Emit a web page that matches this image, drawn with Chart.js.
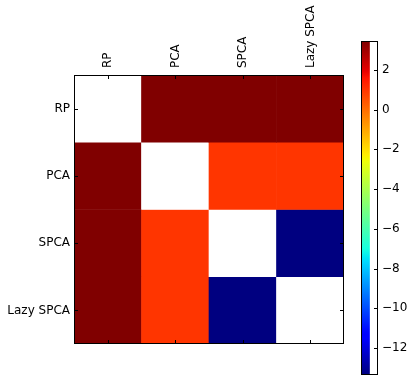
<!DOCTYPE html>
<html>
<head>
<meta charset="utf-8">
<script src="https://cdn.jsdelivr.net/npm/chart.js@4"></script>
<style>
  html, body { margin: 0; padding: 0; background: #fff; }
  #wrap { position: relative; width: 415px; height: 386px; }
  #matrix { position: absolute; left: 0; top: 0; }
  #cbar { position: absolute; left: 350px; top: 0; }
</style>
</head>
<body>
<div id="wrap">
  <canvas id="matrix" width="415" height="386"></canvas>
  <canvas id="cbar" width="65" height="386"></canvas>
</div>
<script>
"use strict";

// Methods compared (same order on both axes)
const methods = ["RP", "PCA", "SPCA", "Lazy SPCA"];

// Matrix rows (null = diagonal, drawn white)
const rowRP = [null, 3.45, 3.45, 3.45];
const rowPCA = [3.45, null, 1.0, 1.0];
const rowSPCA = [3.45, 1.0, null, -13.35];
const rowLazySPCA = [3.45, 1.0, -13.35, null];
const rows = [rowRP, rowPCA, rowSPCA, rowLazySPCA];

// Colorbar ticks
const cbarTicks = [2, 0, -2, -4, -6, -8, -10, -12];

let allVals = rows.flat().filter(v => v !== null);
let vmin = Math.min(...allVals);
let vmax = Math.max(...allVals);

// matplotlib jet colormap segments
const jetR = [[0, 0], [0.35, 0], [0.66, 1], [0.89, 1], [1, 0.5]];
const jetG = [[0, 0], [0.125, 0], [0.375, 1], [0.64, 1], [0.91, 0], [1, 0]];
const jetB = [[0, 0.5], [0.11, 1], [0.34, 1], [0.65, 0], [1, 0]];

function seg(pts, t) {
    for (let i = 1; i < pts.length; i++) {
        if (t <= pts[i][0]) {
            let a = pts[i - 1], b = pts[i];
            return a[1] + (b[1] - a[1]) * (t - a[0]) / (b[0] - a[0]);
        }
    }
    return pts[pts.length - 1][1];
}

function jet(t) {
    t = Math.max(0, Math.min(1, t));
    let r = Math.round(seg(jetR, t) * 255);
    let g = Math.round(seg(jetG, t) * 255);
    let b = Math.round(seg(jetB, t) * 255);
    return `rgb(${r},${g},${b})`;
}

function colorFor(v) {
    if (v === null) return "#ffffff";
    return jet((v - vmin) / (vmax - vmin));
}

const FONT = { family: "'DejaVu Sans', sans-serif", size: 12 };
Chart.defaults.color = "#000";

// frame + inward tick marks
const framePlugin = {
    id: "frame",
    afterDraw(chart, args, opts) {
        let ctx = chart.ctx;
        let a = chart.chartArea;
        ctx.save();
        ctx.strokeStyle = "#000";
        ctx.lineWidth = 1;
        ctx.beginPath();
        for (let key of opts.scales) {
            let s = chart.scales[key];
            s.ticks.forEach((t, i) => {
                let p = Math.round(s.getPixelForTick(i)) + 0.5;
                if (s.isHorizontal()) {
                    ctx.moveTo(p, a.top); ctx.lineTo(p, a.top + 4);
                    ctx.moveTo(p, a.bottom); ctx.lineTo(p, a.bottom - 4);
                } else {
                    if (opts.both) {
                        ctx.moveTo(a.left, p); ctx.lineTo(a.left + 4, p);
                    }
                    ctx.moveTo(a.right, p); ctx.lineTo(a.right - 4, p);
                }
            });
        }
        ctx.stroke();
        ctx.strokeRect(Math.round(a.left) + 0.5, Math.round(a.top) + 0.5,
                       Math.round(a.right - a.left) - 1, Math.round(a.bottom - a.top) - 1);
        ctx.restore();
    }
};

let datasets = rows.map((row, r) => ({
    data: row.map(() => [r, r + 1]),
    backgroundColor: row.map(colorFor),
    borderWidth: 0,
    barPercentage: 1,
    categoryPercentage: 1,
    grouped: false
}));

new Chart(document.getElementById("matrix").getContext("2d"), {
    type: "bar",
    data: { labels: methods, datasets: datasets },
    plugins: [framePlugin],
    options: {
        responsive: false,
        animation: false,
        layout: { padding: { left: 0, top: 0, right: 71, bottom: 42 } },
        plugins: {
            legend: { display: false },
            tooltip: { enabled: false },
            frame: { scales: ["x", "y"], both: true }
        },
        scales: {
            x: {
                type: "category",
                position: "top",
                offset: true,
                grid: { display: false, drawTicks: false },
                border: { display: false },
                ticks: { font: FONT, minRotation: 90, maxRotation: 90, padding: 7, labelOffset: 15 },
                afterFit(s) { s.height = 75; }
            },
            y: {
                type: "linear",
                min: 0,
                max: 4,
                reverse: true,
                grid: { display: false, drawTicks: false },
                border: { display: false },
                afterBuildTicks(s) { s.ticks = [0.5, 1.5, 2.5, 3.5].map(v => ({ value: v })); },
                ticks: { font: FONT, padding: 4, callback: v => methods[Math.floor(v)] },
                afterFit(s) { s.width = 74; }
            }
        }
    }
});

// Colorbar
new Chart(document.getElementById("cbar").getContext("2d"), {
    type: "bar",
    data: {
        labels: [""],
        datasets: [{
            data: [[vmin, vmax]],
            borderWidth: 0,
            barPercentage: 1,
            categoryPercentage: 1,
            backgroundColor(c) {
                let a = c.chart.chartArea;
                if (!a) return "#888";
                let g = c.chart.ctx.createLinearGradient(0, a.bottom, 0, a.top);
                for (let i = 0; i <= 100; i++) g.addColorStop(i / 100, jet(i / 100));
                return g;
            }
        }]
    },
    plugins: [framePlugin],
    options: {
        responsive: false,
        animation: false,
        layout: { padding: { left: 11, top: 41, right: 0, bottom: 7 } },
        plugins: {
            legend: { display: false },
            tooltip: { enabled: false },
            frame: { scales: ["y"], both: false }
        },
        scales: {
            x: { display: false, offset: false },
            y: {
                type: "linear",
                position: "right",
                min: vmin,
                max: vmax,
                grid: { display: false, drawTicks: false },
                border: { display: false },
                afterBuildTicks(s) { s.ticks = cbarTicks.map(v => ({ value: v })); },
                ticks: {
                    font: FONT,
                    padding: 4,
                    callback: v => (v < 0 ? "\u2212" + Math.abs(v) : String(v))
                },
                afterFit(s) { s.width = 37; }
            }
        }
    }
});
</script>
</body>
</html>
